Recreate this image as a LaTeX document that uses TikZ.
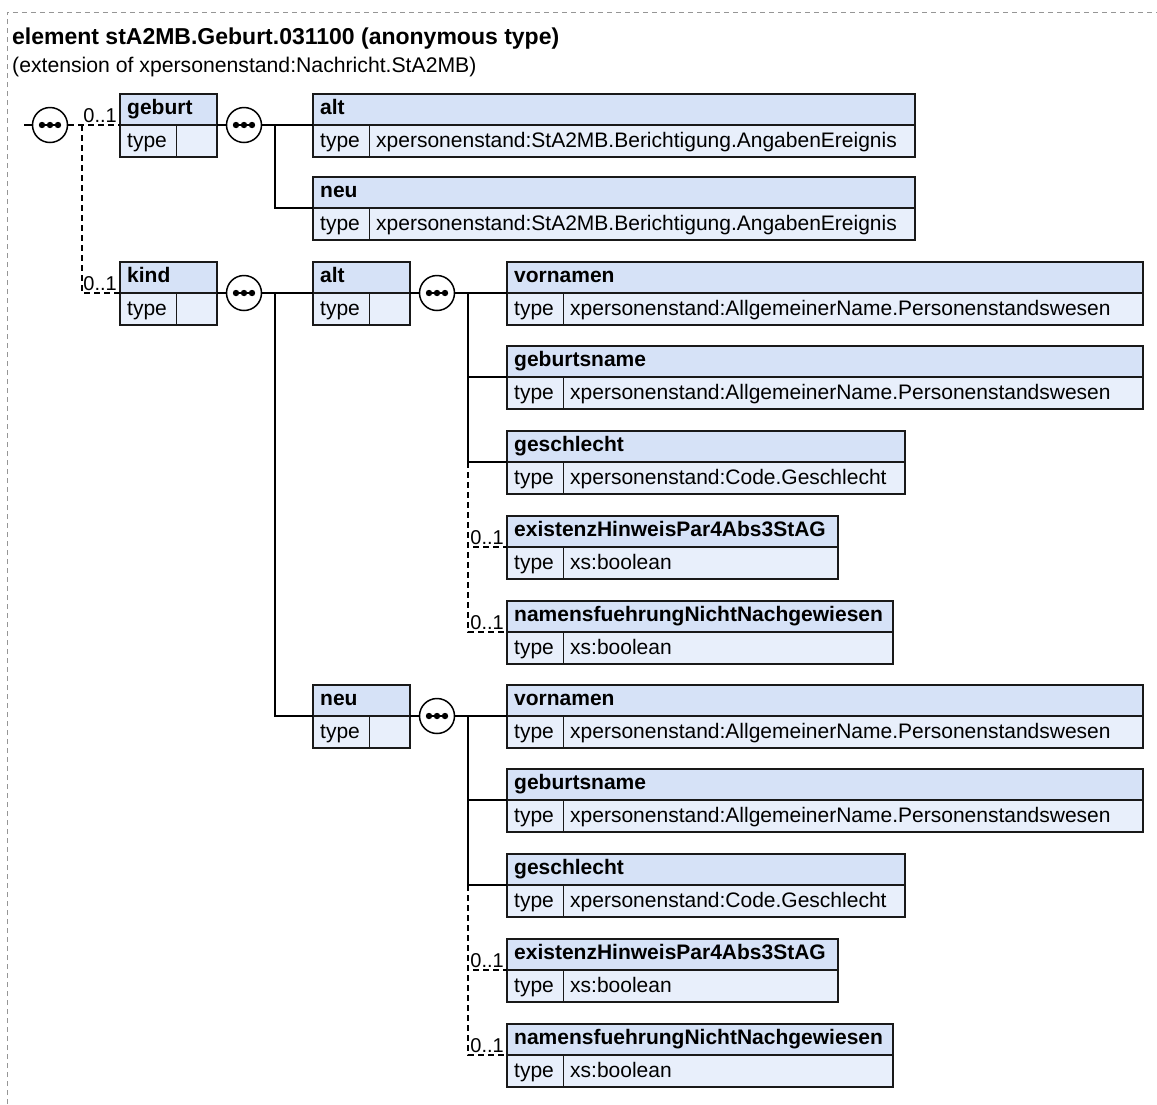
\documentclass[tikz,border=0pt]{standalone}
\usepackage{fontspec}
\setmainfont{Liberation Sans}
\definecolor{hdrfill}{RGB}{214,226,247}
\definecolor{rowfill}{RGB}{232,239,251}
\definecolor{boxline}{RGB}{25,25,25}
\definecolor{framegray}{RGB}{150,150,150}
\tikzset{
  hdr/.style={draw=boxline, fill=hdrfill, line width=1.5pt, inner sep=0pt, outer sep=0pt, minimum height=31pt, anchor=south west},
  keycell/.style={draw=boxline, fill=rowfill, line width=1.5pt, inner sep=0pt, outer sep=0pt, minimum height=32pt, minimum width=56.5pt, anchor=north west},
  valcell/.style={draw=boxline, fill=rowfill, line width=1.5pt, inner sep=0pt, outer sep=0pt, minimum height=32pt, anchor=north west},
  lbl/.style={font=\bfseries\fontsize{21}{24}\selectfont, anchor=base west, inner sep=0pt},
  txt/.style={font=\fontsize{21}{24}\selectfont, anchor=base west, inner sep=0pt},
  card/.style={font=\fontsize{20}{24}\selectfont, anchor=base east, inner sep=0pt},
  conn/.style={draw=black, line width=1.5pt},
  opt/.style={conn, dash pattern=on 6pt off 4pt},
  framed/.style={draw=framegray, line width=1pt, dash pattern=on 5pt off 4pt},
  seq/.style={circle, draw=black, fill=white, line width=1.5pt, minimum size=35pt, inner sep=0pt},
  seqdots/.style={line width=1.5pt, draw=black, fill=black},
}
\newcommand\elem[6]{%
  \pgfmathsetmacro\wA{#3-#2}%
  \pgfmathsetmacro\wV{#3-#2-56.5}%
  \node[hdr, minimum width=\wA pt] (#1) at (#2,#4) {};
  \node[keycell] (#1-k) at (#2,#4) {};
  \node[valcell, minimum width=\wV pt] (#1-v) at (#2+56.5,#4) {};
  \node[lbl] (#1-l) at (#2+7,#4-10.5) {#5};
  \node[txt] (#1-kt) at (#2+7,#4+22) {type};
  \node[txt] (#1-vt) at (#2+63,#4+22) {#6};
}
\begin{document}
\begin{tikzpicture}[x=1pt,y=-1pt]
\useasboundingbox (0,0) rectangle (1157,1104);
\draw[framed] (7,1104) -- (7,12) -- (1157,12);
\node[anchor=base west, inner sep=0pt, font=\bfseries\fontsize{23}{27}\selectfont] (title) at (12,44) {element stA2MB.Geburt.031100 (anonymous type)};
\node[anchor=base west, inner sep=0pt, font=\fontsize{21.2}{24}\selectfont] (subtitle) at (12,72) {(extension of xpersonenstand:Nachricht.StA2MB)};

% boxes
\elem{geburt}{120}{217}{125}{geburt}{}
\elem{galt}{313}{915}{125}{alt}{xpersonenstand:StA2MB.Berichtigung.AngabenEreignis}
\elem{gneu}{313}{915}{208}{neu}{xpersonenstand:StA2MB.Berichtigung.AngabenEreignis}
\elem{kind}{120}{217}{293}{kind}{}
\elem{kalt}{313}{410}{293}{alt}{}
\elem{kneu}{313}{410}{716}{neu}{}
\elem{avor}{507}{1143}{293}{vornamen}{xpersonenstand:AllgemeinerName.Personenstandswesen}
\elem{ageb}{507}{1143}{377}{geburtsname}{xpersonenstand:AllgemeinerName.Personenstandswesen}
\elem{ages}{507}{905}{462}{geschlecht}{xpersonenstand:Code.Geschlecht}
\elem{aex}{507}{838}{547}{existenzHinweisPar4Abs3StAG}{xs:boolean}
\elem{ana}{507}{893}{632}{namensfuehrungNichtNachgewiesen}{xs:boolean}
\elem{nvor}{507}{1143}{716}{vornamen}{xpersonenstand:AllgemeinerName.Personenstandswesen}
\elem{ngeb}{507}{1143}{800}{geburtsname}{xpersonenstand:AllgemeinerName.Personenstandswesen}
\elem{nges}{507}{905}{885}{geschlecht}{xpersonenstand:Code.Geschlecht}
\elem{nex}{507}{838}{970}{existenzHinweisPar4Abs3StAG}{xs:boolean}
\elem{nna}{507}{893}{1055}{namensfuehrungNichtNachgewiesen}{xs:boolean}

% sequence symbols
\node[seq] (s0) at (50,125) {};
\node[seq] (s1) at (244,125) {};
\node[seq] (s2) at (244,293) {};
\node[seq] (s3) at (437,293) {};
\node[seq] (s4) at (437,716) {};
\foreach \s in {s0,s1,s2,s3,s4} {
  \draw[seqdots] ([xshift=-11pt]\s.center) -- ([xshift=11pt]\s.center);
  \foreach \dx in {-8,0,8} \fill[black] ([xshift=\dx pt]\s.center) circle[radius=3.2pt];
}

% junctions
\coordinate (rin) at (24,125);
\coordinate (j0) at (82,125);
\coordinate (j1) at (275,125);
\coordinate (j2) at (275,293);
\coordinate (j3) at (468,293);
\coordinate (j3b) at (468,462);
\coordinate (j4) at (468,716);
\coordinate (j4b) at (468,885);

% root
\draw[conn] (rin) -- (s0.west);
\draw[opt] (s0.east) -- (geburt.south west);
\draw[opt] (j0) |- (kind.south west);
\node[card] (cg) at (117,122) {0..1};
\node[card] (ck) at (117,290) {0..1};

% geburt
\draw[conn] (geburt.south east) -- (s1.west);
\draw[conn] (s1.east) -- (galt.south west);
\draw[conn] (j1) |- (gneu.south west);

% kind
\draw[conn] (kind.south east) -- (s2.west);
\draw[conn] (s2.east) -- (kalt.south west);
\draw[conn] (j2) |- (kneu.south west);

% kind/alt
\draw[conn] (kalt.south east) -- (s3.west);
\draw[conn] (s3.east) -- (avor.south west);
\draw[conn] (j3) |- (ageb.south west);
\draw[conn] (j3) |- (ages.south west);
\draw[opt] (j3b) |- (aex.south west);
\draw[opt] (j3b) |- (ana.south west);
\node[card] (c1) at (504,544) {0..1};
\node[card] (c2) at (504,629) {0..1};

% kind/neu
\draw[conn] (kneu.south east) -- (s4.west);
\draw[conn] (s4.east) -- (nvor.south west);
\draw[conn] (j4) |- (ngeb.south west);
\draw[conn] (j4) |- (nges.south west);
\draw[opt] (j4b) |- (nex.south west);
\draw[opt] (j4b) |- (nna.south west);
\node[card] (c3) at (504,967) {0..1};
\node[card] (c4) at (504,1052) {0..1};
\end{tikzpicture}
\end{document}
